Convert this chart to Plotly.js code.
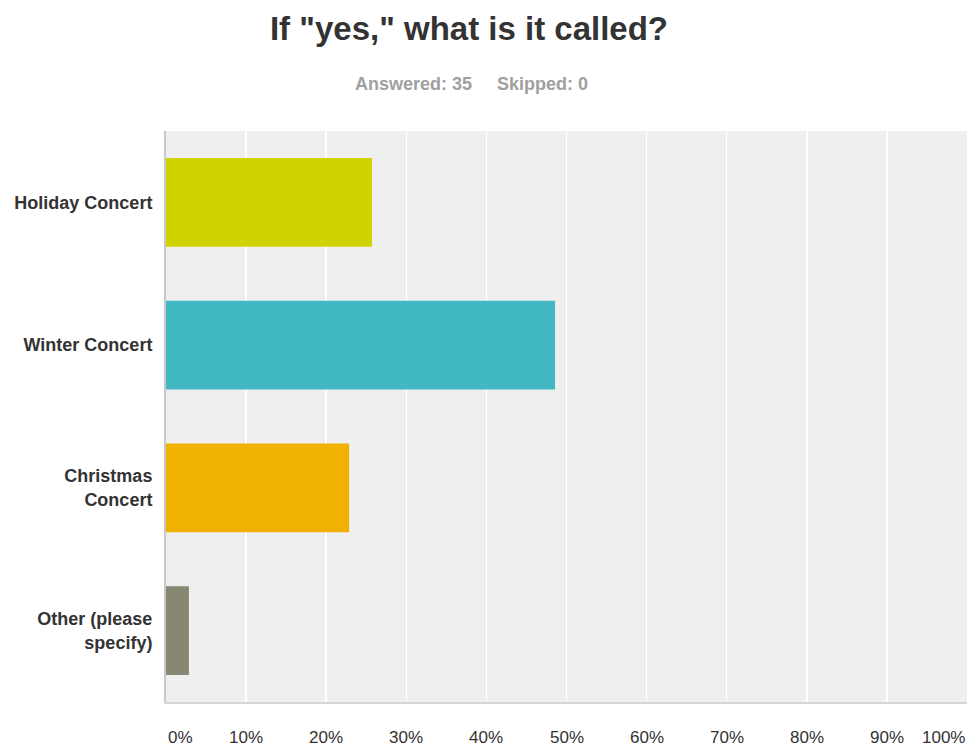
<!DOCTYPE html>
<html>
<head>
<meta charset="utf-8">
<script src="https://cdn.plot.ly/plotly-3.0.1.min.js"></script>
<style>html,body{margin:0;padding:0;background:#fff;}</style>
</head>
<body>
<div id="chart" style="width:972px;height:747px;"></div>
<script>
const categories = ["Holiday Concert", "Winter Concert", "Christmas<br>Concert", "Other (please<br>specify)"];
const percents = [25.71, 48.57, 22.86, 2.86];
const barColors = ["#cfd400", "#41b8c2", "#f0b100", "#878773"];
const tickValues = [0, 10, 20, 30, 40, 50, 60, 70, 80, 90, 100];
const tickLabels = ["0%", "10%", "20%", "30%", "40%", "50%", "60%", "70%", "80%", "90%", "100%"];
const titleText = 'If "yes," what is it called?';
const subtitleText = "Answered: 35&nbsp;&nbsp;&nbsp;&nbsp;&nbsp;Skipped: 0";

const font = "Liberation Sans, Arial, Helvetica, sans-serif";

const tickAnnotations = tickValues.map((v, i) => ({
  x: v, xref: "x", y: 0, yref: "paper",
  yanchor: "middle", yshift: -35,
  xanchor: i === 0 ? "left" : (i === tickValues.length - 1 ? "right" : "center"),
  text: tickLabels[i], showarrow: false,
  font: {family: font, size: 17, color: "#333"}
}));

const data = [{
  type: "bar",
  orientation: "h",
  x: percents,
  y: categories,
  width: 0.62,
  marker: {color: barColors},
  hoverinfo: "x+y"
}];

const layout = {
  width: 972, height: 747,
  margin: {l: 166, r: 5, t: 131, b: 45},
  paper_bgcolor: "#ffffff",
  plot_bgcolor: "#efefef",
  showlegend: false,
  title: {
    text: titleText,
    xref: "container", x: 469/972, xanchor: "center",
    yref: "container", y: 1 - 28/747, yanchor: "middle",
    font: {family: font, size: 33, color: "#333", weight: "bold"}
  },
  xaxis: {
    range: [0, 100],
    tickvals: tickValues,
    showticklabels: false,
    showgrid: true, gridcolor: "#ffffff", gridwidth: 1.5,
    zeroline: false,
    showline: true, linecolor: "#d6d6d6", linewidth: 2,
    fixedrange: true
  },
  yaxis: {
    type: "category",
    categoryorder: "array",
    categoryarray: categories,
    autorange: "reversed",
    showgrid: false, zeroline: false,
    showline: true, linecolor: "#c8c8c8", linewidth: 2,
    ticks: "", ticklabelstandoff: 8,
    tickfont: {family: font, size: 18, color: "#333", weight: "bold"},
    fixedrange: true
  },
  annotations: [{
    text: subtitleText,
    xref: "paper", x: (471 - 166) / 801, xanchor: "center",
    yref: "paper", y: 1, yanchor: "middle", yshift: 131 - 84,
    showarrow: false,
    font: {family: font, size: 18, color: "#a0a0a0", weight: "bold"}
  }].concat(tickAnnotations)
};

Plotly.newPlot("chart", data, layout, {displayModeBar: false, staticPlot: true});
</script>
</body>
</html>
